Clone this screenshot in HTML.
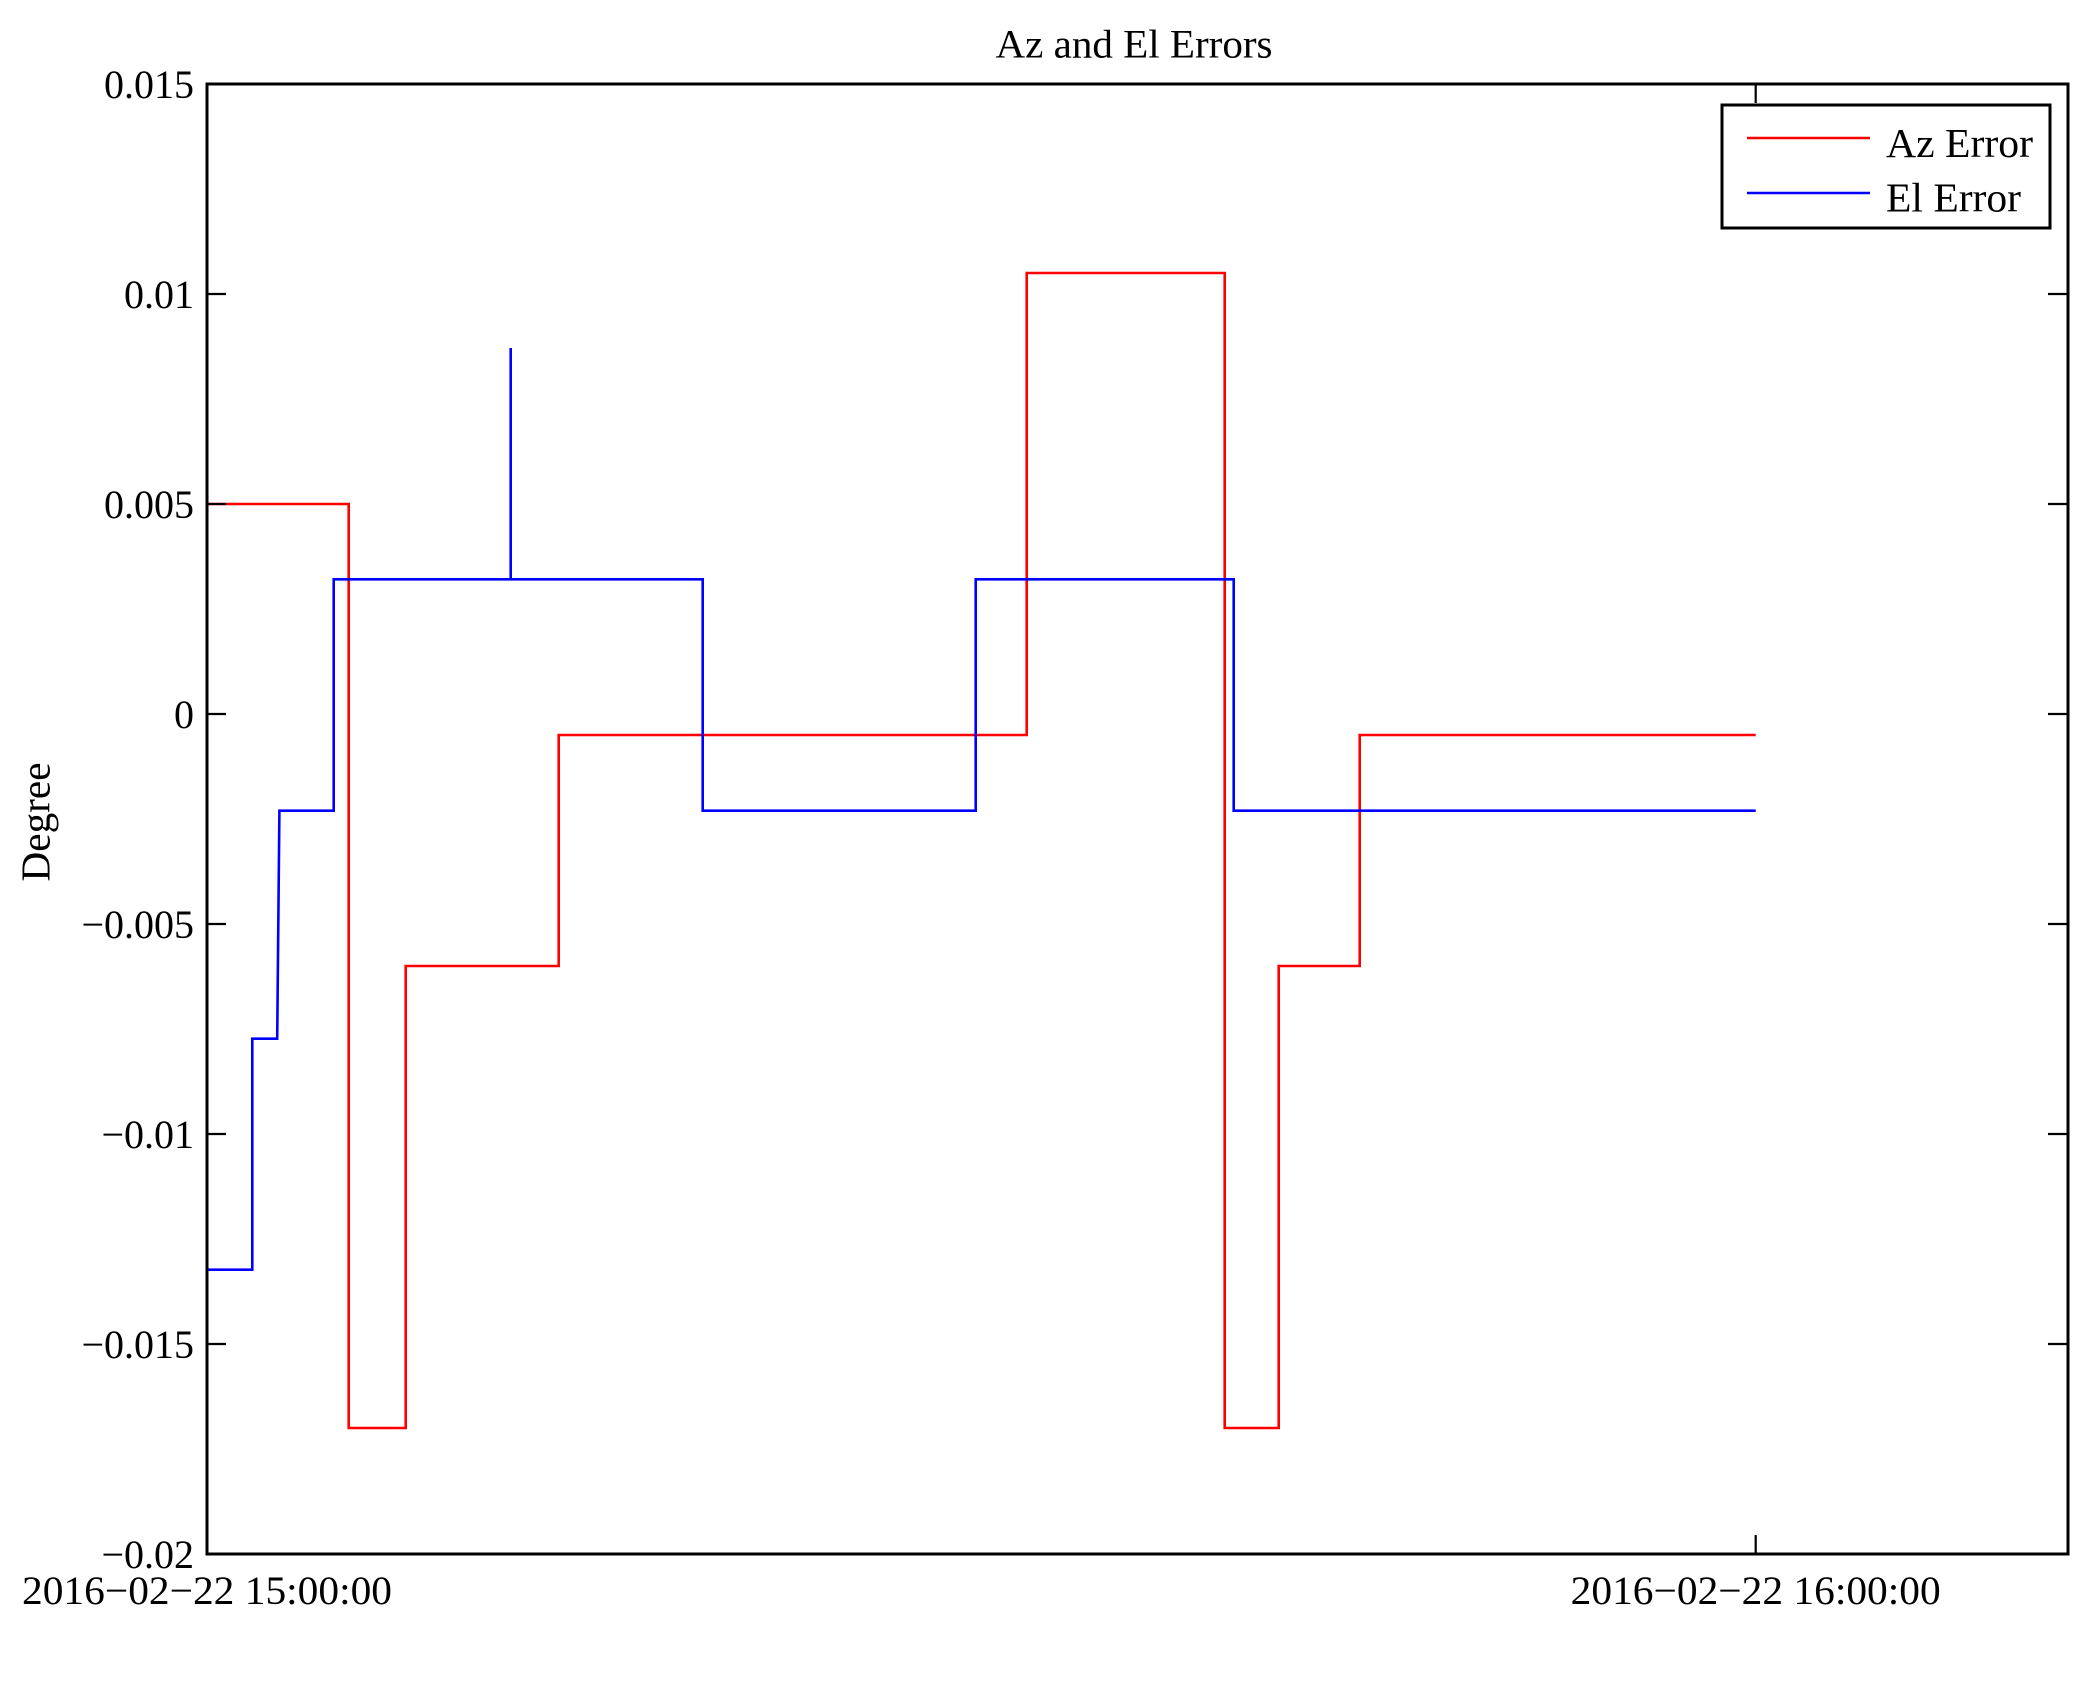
<!DOCTYPE html>
<html>
<head>
<meta charset="utf-8">
<style>
  html, body { margin: 0; padding: 0; background: #ffffff; }
  svg { display: block; }
  text { font-family: "Liberation Serif", "Times New Roman", serif; fill: #000; }
</style>
</head>
<body>
<svg xmlns="http://www.w3.org/2000/svg" width="2096" height="1683" viewBox="0 0 2096 1683">
  <rect x="0" y="0" width="2096" height="1683" fill="#ffffff"/>

  <!-- Title -->
  <text x="1134" y="57.5" font-size="40" text-anchor="middle" textLength="277" lengthAdjust="spacingAndGlyphs">Az and El Errors</text>

  <!-- Y label -->
  <text x="0" y="0" font-size="41" text-anchor="middle" textLength="119" lengthAdjust="spacingAndGlyphs" transform="translate(49.5,822) rotate(-90)">Degree</text>

  <!-- Data: Az Error (red) -->
  <polyline fill="none" stroke="#ff0000" stroke-width="2.6" stroke-linejoin="miter"
    points="207,504 348.7,504 348.7,1428 405.7,1428 405.7,966 558.7,966 558.7,735 1026.7,735 1026.7,273 1224.7,273 1224.7,1428 1278.7,1428 1278.7,966 1359.7,966 1359.7,735 1755.7,735"/>

  <!-- Data: El Error (blue) -->
  <polyline fill="none" stroke="#0000ff" stroke-width="2.6" stroke-linejoin="miter"
    points="207,1269.7 252.3,1269.7 252.3,1038.7 277.2,1038.7 279.4,810.7 333.7,810.7 333.7,579.3 510.7,579.3 510.7,348 510.7,579.3 702.7,579.3 702.7,810.7 975.7,810.7 975.7,579.3 1233.7,579.3 1233.7,810.7 1755.7,810.7"/>

  <!-- Axes box -->
  <rect x="207" y="84" width="1861" height="1470" fill="none" stroke="#000" stroke-width="3"/>

  <!-- Ticks -->
  <g stroke="#000" stroke-width="2.2">
    <line x1="207" y1="294" x2="226" y2="294"/>
    <line x1="207" y1="504" x2="226" y2="504"/>
    <line x1="207" y1="714" x2="226" y2="714"/>
    <line x1="207" y1="924" x2="226" y2="924"/>
    <line x1="207" y1="1134" x2="226" y2="1134"/>
    <line x1="207" y1="1344" x2="226" y2="1344"/>

    <line x1="2068" y1="294" x2="2048" y2="294"/>
    <line x1="2068" y1="504" x2="2048" y2="504"/>
    <line x1="2068" y1="714" x2="2048" y2="714"/>
    <line x1="2068" y1="924" x2="2048" y2="924"/>
    <line x1="2068" y1="1134" x2="2048" y2="1134"/>
    <line x1="2068" y1="1344" x2="2048" y2="1344"/>

    <line x1="1755.7" y1="1554" x2="1755.7" y2="1535"/>
    <line x1="1755.7" y1="84" x2="1755.7" y2="103"/>
  </g>

  <!-- Y tick labels -->
  <g font-size="40" text-anchor="end">
    <text x="194" y="98">0.015</text>
    <text x="194" y="308">0.01</text>
    <text x="194" y="518">0.005</text>
    <text x="194" y="728">0</text>
    <text x="194" y="938">−0.005</text>
    <text x="194" y="1148">−0.01</text>
    <text x="194" y="1358">−0.015</text>
    <text x="194" y="1568">−0.02</text>
  </g>

  <!-- X tick labels -->
  <g font-size="40" text-anchor="middle">
    <text x="207" y="1604" textLength="370" lengthAdjust="spacingAndGlyphs">2016−02−22 15:00:00</text>
    <text x="1755.7" y="1604" textLength="370" lengthAdjust="spacingAndGlyphs">2016−02−22 16:00:00</text>
  </g>

  <!-- Legend -->
  <rect x="1722" y="105" width="328" height="123" fill="#ffffff" stroke="#000" stroke-width="3"/>
  <line x1="1747" y1="138" x2="1870" y2="138" stroke="#ff0000" stroke-width="2.6"/>
  <line x1="1747" y1="193" x2="1870" y2="193" stroke="#0000ff" stroke-width="2.6"/>
  <text x="1886" y="157" font-size="41" textLength="147" lengthAdjust="spacingAndGlyphs">Az Error</text>
  <text x="1886" y="211.5" font-size="41" textLength="135" lengthAdjust="spacingAndGlyphs">El Error</text>
</svg>
</body>
</html>
